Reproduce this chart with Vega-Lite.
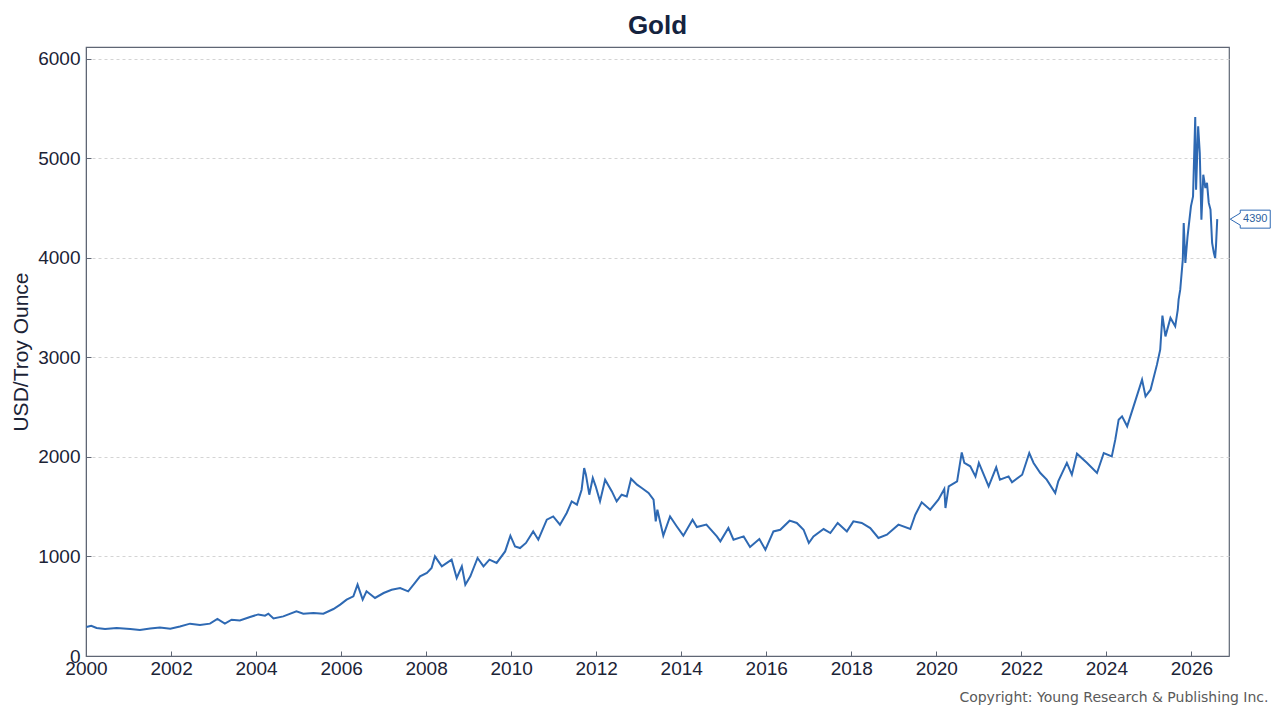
{
  "$schema": "https://vega.github.io/schema/vega-lite/v6.json",
  "autosize": "none",
  "width": 1143,
  "height": 609,
  "padding": {"left": 86, "top": 47, "right": 51, "bottom": 64},
  "background": "white",
  "title": {
    "text": "Gold",
    "font": "Liberation Sans",
    "fontSize": 26,
    "fontWeight": "bold",
    "color": "#14233f",
    "anchor": "middle",
    "offset": 8
  },
  "config": {
    "view": {"stroke": "#5f6674", "strokeWidth": 1.2},
    "axis": {
      "labelFont": "Liberation Sans",
      "labelFontSize": 19,
      "labelColor": "#1b2336",
      "titleFont": "Liberation Sans",
      "titleFontWeight": "normal",
      "domainColor": "#5f6674",
      "tickColor": "#5f6674"
    }
  },
  "data": {
    "values": [
      {"date": "2000-01-04", "price": 291},
      {"date": "2000-02-15", "price": 304},
      {"date": "2000-04-01", "price": 281},
      {"date": "2000-06-13", "price": 271},
      {"date": "2000-09-20", "price": 281},
      {"date": "2001-01-15", "price": 271},
      {"date": "2001-04-08", "price": 261},
      {"date": "2001-07-05", "price": 277},
      {"date": "2001-09-27", "price": 287},
      {"date": "2001-12-25", "price": 274},
      {"date": "2002-03-18", "price": 297},
      {"date": "2002-06-13", "price": 325},
      {"date": "2002-09-06", "price": 312},
      {"date": "2002-12-01", "price": 325},
      {"date": "2003-02-03", "price": 372},
      {"date": "2003-04-08", "price": 325},
      {"date": "2003-06-05", "price": 365},
      {"date": "2003-08-15", "price": 358},
      {"date": "2003-11-10", "price": 392},
      {"date": "2004-01-20", "price": 418},
      {"date": "2004-03-18", "price": 405},
      {"date": "2004-04-16", "price": 425},
      {"date": "2004-05-30", "price": 378},
      {"date": "2004-08-22", "price": 398},
      {"date": "2004-12-13", "price": 448},
      {"date": "2005-02-10", "price": 425},
      {"date": "2005-05-08", "price": 432},
      {"date": "2005-08-01", "price": 425},
      {"date": "2005-10-27", "price": 472},
      {"date": "2005-12-24", "price": 516},
      {"date": "2006-02-17", "price": 566},
      {"date": "2006-04-16", "price": 599},
      {"date": "2006-05-22", "price": 717},
      {"date": "2006-07-05", "price": 566},
      {"date": "2006-08-07", "price": 650},
      {"date": "2006-10-19", "price": 583},
      {"date": "2007-01-01", "price": 633},
      {"date": "2007-03-11", "price": 666},
      {"date": "2007-05-23", "price": 683},
      {"date": "2007-07-31", "price": 650},
      {"date": "2007-09-27", "price": 734},
      {"date": "2007-11-10", "price": 800},
      {"date": "2008-01-08", "price": 834},
      {"date": "2008-02-17", "price": 884},
      {"date": "2008-03-17", "price": 1001},
      {"date": "2008-05-15", "price": 901},
      {"date": "2008-08-07", "price": 968},
      {"date": "2008-09-20", "price": 784},
      {"date": "2008-11-03", "price": 901},
      {"date": "2008-12-03", "price": 717},
      {"date": "2009-01-15", "price": 800},
      {"date": "2009-03-18", "price": 985},
      {"date": "2009-05-08", "price": 901},
      {"date": "2009-06-28", "price": 968},
      {"date": "2009-08-29", "price": 935},
      {"date": "2009-11-10", "price": 1051},
      {"date": "2009-12-25", "price": 1209},
      {"date": "2010-02-03", "price": 1102},
      {"date": "2010-03-18", "price": 1085},
      {"date": "2010-05-08", "price": 1136},
      {"date": "2010-07-09", "price": 1252},
      {"date": "2010-08-22", "price": 1169},
      {"date": "2010-11-03", "price": 1370},
      {"date": "2010-12-28", "price": 1403},
      {"date": "2011-02-24", "price": 1320},
      {"date": "2011-04-23", "price": 1437},
      {"date": "2011-06-05", "price": 1554},
      {"date": "2011-07-20", "price": 1521},
      {"date": "2011-08-29", "price": 1671},
      {"date": "2011-09-20", "price": 1889},
      {"date": "2011-10-05", "price": 1822},
      {"date": "2011-11-03", "price": 1621},
      {"date": "2011-12-03", "price": 1789},
      {"date": "2011-12-28", "price": 1705},
      {"date": "2012-02-03", "price": 1554},
      {"date": "2012-03-18", "price": 1772},
      {"date": "2012-05-15", "price": 1654},
      {"date": "2012-06-25", "price": 1554},
      {"date": "2012-08-07", "price": 1621},
      {"date": "2012-09-20", "price": 1604},
      {"date": "2012-10-27", "price": 1782},
      {"date": "2012-12-17", "price": 1722},
      {"date": "2013-01-27", "price": 1688},
      {"date": "2013-03-26", "price": 1638},
      {"date": "2013-05-08", "price": 1571},
      {"date": "2013-05-27", "price": 1353},
      {"date": "2013-06-10", "price": 1470},
      {"date": "2013-07-31", "price": 1209},
      {"date": "2013-09-27", "price": 1403},
      {"date": "2013-11-24", "price": 1302},
      {"date": "2014-01-19", "price": 1209},
      {"date": "2014-04-08", "price": 1370},
      {"date": "2014-05-15", "price": 1296},
      {"date": "2014-08-05", "price": 1320},
      {"date": "2014-11-03", "price": 1202},
      {"date": "2014-12-03", "price": 1152},
      {"date": "2015-02-10", "price": 1286},
      {"date": "2015-03-26", "price": 1169},
      {"date": "2015-06-21", "price": 1202},
      {"date": "2015-08-15", "price": 1095},
      {"date": "2015-11-03", "price": 1176},
      {"date": "2015-12-25", "price": 1068},
      {"date": "2016-03-03", "price": 1252},
      {"date": "2016-05-01", "price": 1269},
      {"date": "2016-07-20", "price": 1360},
      {"date": "2016-09-20", "price": 1337},
      {"date": "2016-11-17", "price": 1269},
      {"date": "2017-01-01", "price": 1136},
      {"date": "2017-02-10", "price": 1202},
      {"date": "2017-05-08", "price": 1276},
      {"date": "2017-07-05", "price": 1236},
      {"date": "2017-09-06", "price": 1337},
      {"date": "2017-11-24", "price": 1252},
      {"date": "2018-01-19", "price": 1353},
      {"date": "2018-04-01", "price": 1337},
      {"date": "2018-06-13", "price": 1286},
      {"date": "2018-08-22", "price": 1186},
      {"date": "2018-11-03", "price": 1219},
      {"date": "2019-02-10", "price": 1320},
      {"date": "2019-05-23", "price": 1276},
      {"date": "2019-07-05", "price": 1420},
      {"date": "2019-08-29", "price": 1544},
      {"date": "2019-11-10", "price": 1470},
      {"date": "2020-01-19", "price": 1571},
      {"date": "2020-03-10", "price": 1678},
      {"date": "2020-03-20", "price": 1487},
      {"date": "2020-04-17", "price": 1705},
      {"date": "2020-06-28", "price": 1755},
      {"date": "2020-08-07", "price": 2046},
      {"date": "2020-08-29", "price": 1940},
      {"date": "2020-10-19", "price": 1906},
      {"date": "2020-12-03", "price": 1805},
      {"date": "2021-01-01", "price": 1940},
      {"date": "2021-03-26", "price": 1705},
      {"date": "2021-05-30", "price": 1896},
      {"date": "2021-07-01", "price": 1772},
      {"date": "2021-09-13", "price": 1805},
      {"date": "2021-10-13", "price": 1745},
      {"date": "2022-01-08", "price": 1822},
      {"date": "2022-03-10", "price": 2040},
      {"date": "2022-04-16", "price": 1940},
      {"date": "2022-06-13", "price": 1839},
      {"date": "2022-08-07", "price": 1772},
      {"date": "2022-10-19", "price": 1638},
      {"date": "2022-11-14", "price": 1755},
      {"date": "2023-01-27", "price": 1940},
      {"date": "2023-03-11", "price": 1822},
      {"date": "2023-04-24", "price": 2033},
      {"date": "2023-07-20", "price": 1940},
      {"date": "2023-10-13", "price": 1839},
      {"date": "2023-12-10", "price": 2040},
      {"date": "2024-02-17", "price": 2006},
      {"date": "2024-03-18", "price": 2174},
      {"date": "2024-04-16", "price": 2375},
      {"date": "2024-05-15", "price": 2408},
      {"date": "2024-06-28", "price": 2308},
      {"date": "2024-08-22", "price": 2509},
      {"date": "2024-11-03", "price": 2777},
      {"date": "2024-12-03", "price": 2609},
      {"date": "2025-01-15", "price": 2676},
      {"date": "2025-03-11", "price": 2928},
      {"date": "2025-04-08", "price": 3078},
      {"date": "2025-04-27", "price": 3420},
      {"date": "2025-05-23", "price": 3212},
      {"date": "2025-07-05", "price": 3397},
      {"date": "2025-08-15", "price": 3313},
      {"date": "2025-09-06", "price": 3480},
      {"date": "2025-09-13", "price": 3581},
      {"date": "2025-09-27", "price": 3681},
      {"date": "2025-10-19", "price": 3983},
      {"date": "2025-10-27", "price": 4352},
      {"date": "2025-11-10", "price": 3950},
      {"date": "2025-11-29", "price": 4218},
      {"date": "2025-12-28", "price": 4519},
      {"date": "2026-01-15", "price": 4619},
      {"date": "2026-02-03", "price": 5417},
      {"date": "2026-02-10", "price": 4686},
      {"date": "2026-02-28", "price": 5323},
      {"date": "2026-03-14", "price": 5055},
      {"date": "2026-03-28", "price": 4385},
      {"date": "2026-04-13", "price": 4837},
      {"date": "2026-05-01", "price": 4703},
      {"date": "2026-05-15", "price": 4754},
      {"date": "2026-05-30", "price": 4553},
      {"date": "2026-06-14", "price": 4486},
      {"date": "2026-06-28", "price": 4151},
      {"date": "2026-07-13", "price": 4050},
      {"date": "2026-07-24", "price": 4000},
      {"date": "2026-07-31", "price": 4117},
      {"date": "2026-08-11", "price": 4390}
    ]
  },
  "encoding": {
    "x": {
      "field": "date",
      "type": "temporal",
      "scale": {"domain": ["2000-01-01", "2026-11-20"], "nice": false},
      "axis": {
        "values": ["2000-01-01", "2002-01-01", "2004-01-01", "2006-01-01", "2008-01-01", "2010-01-01", "2012-01-01", "2014-01-01", "2016-01-01", "2018-01-01", "2020-01-01", "2022-01-01", "2024-01-01", "2026-01-01"],
        "format": "%Y",
        "grid": false,
        "tickSize": -5,
        "labelPadding": 8,
        "labelFlush": false,
        "title": "Copyright: Young Research & Publishing Inc.",
        "titleFont": "DejaVu Sans",
        "titleFontSize": 14,
        "titleColor": "#5a5a5a",
        "titleAnchor": "end",
        "titleAlign": "right",
        "titleX": 1182,
        "titlePadding": 12
      }
    },
    "y": {
      "field": "price",
      "type": "quantitative",
      "scale": {"domain": [0, 6120], "nice": false},
      "axis": {
        "values": [0, 1000, 2000, 3000, 4000, 5000, 6000],
        "format": "d",
        "grid": true,
        "gridDash": [3, 3],
        "gridColor": "#d4d4d4",
        "tickSize": -5,
        "labelPadding": 11,
        "title": "USD/Troy Ounce",
        "titleFontSize": 21,
        "titleColor": "#1b2336",
        "titlePadding": 6
      }
    }
  },
  "layer": [
    {
      "mark": {"type": "line", "color": "#2e69b3", "strokeWidth": 2, "clip": true}
    },
    {
      "transform": [{"filter": "datum.price == 4390"}],
      "mark": {
        "type": "point",
        "shape": "M-1,0 L-0.5,-0.3 L-0.5,-0.45 L1,-0.45 L1,0.45 L-0.5,0.45 L-0.5,0.3 Z",
        "size": 1600,
        "filled": true,
        "fill": "white",
        "stroke": "#2e69b3",
        "strokeWidth": 1,
        "opacity": 1,
        "xOffset": 33
      }
    },
    {
      "transform": [{"filter": "datum.price == 4390"}],
      "mark": {
        "type": "text",
        "font": "Liberation Sans",
        "fontSize": 11,
        "color": "#2e5f9e",
        "align": "center",
        "baseline": "middle",
        "xOffset": 38
      },
      "encoding": {"text": {"field": "price", "type": "quantitative", "format": "d"}}
    }
  ]
}
